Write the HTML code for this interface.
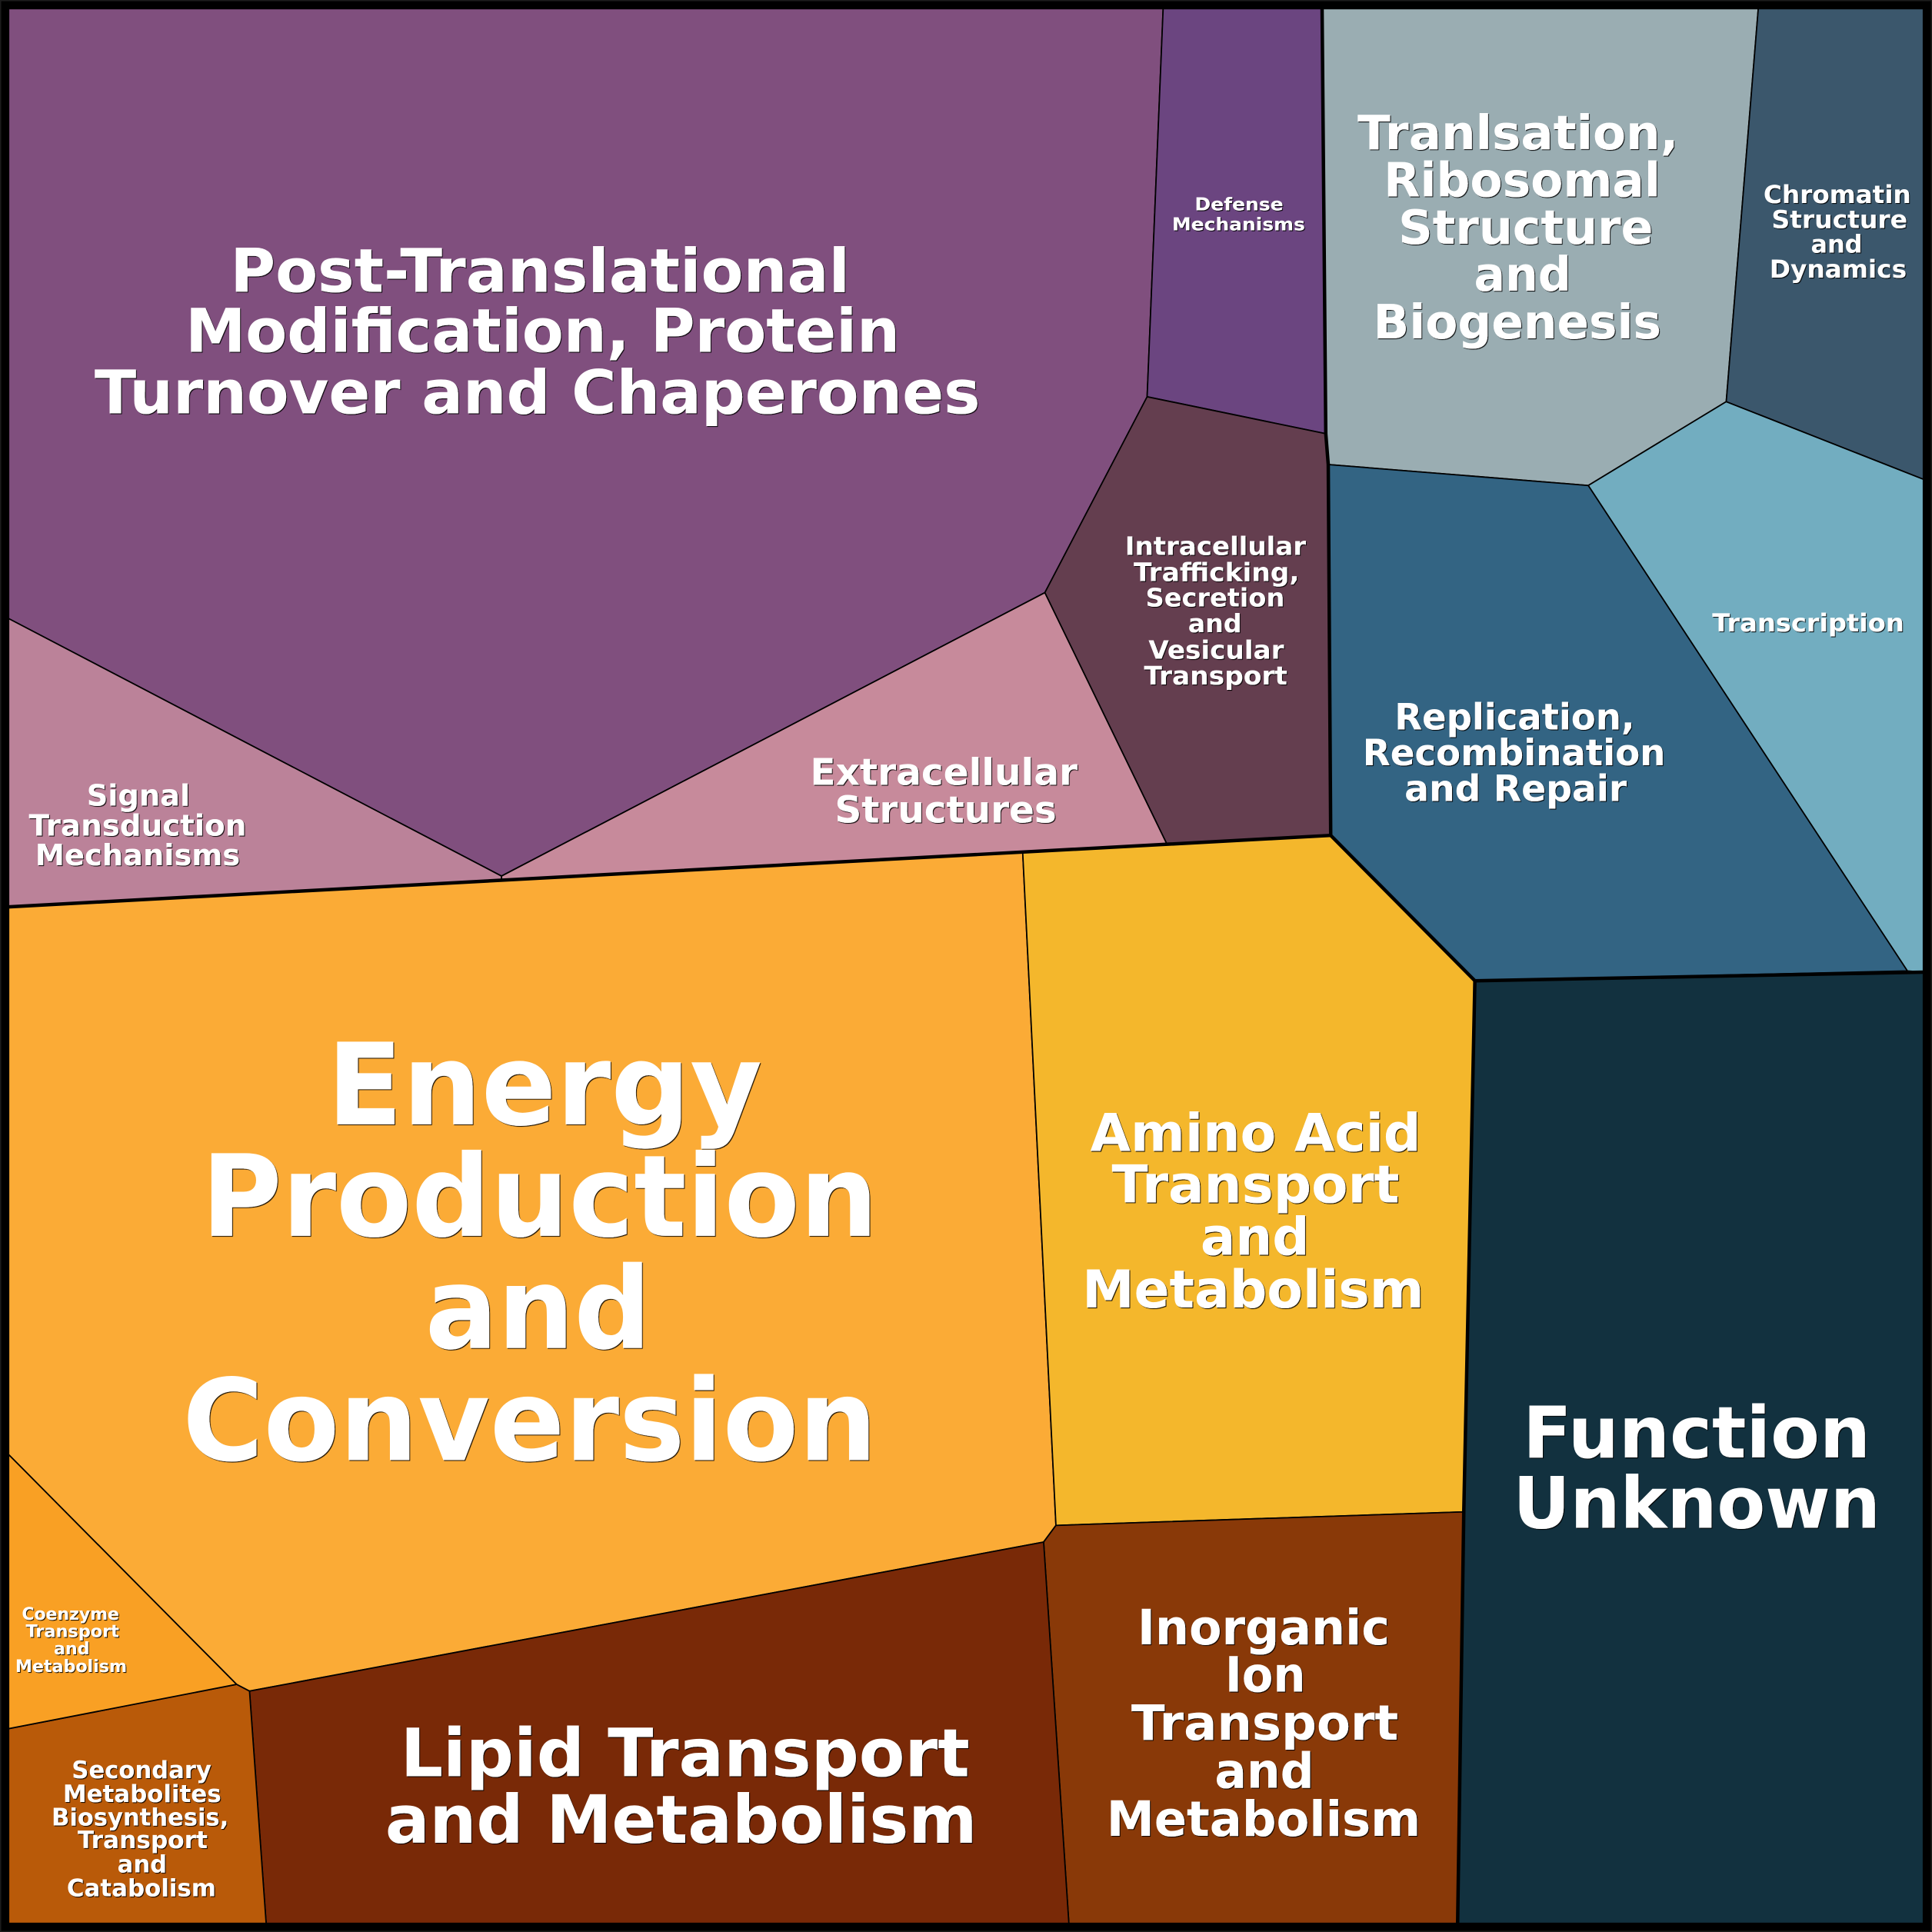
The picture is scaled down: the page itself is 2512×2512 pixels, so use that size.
<!DOCTYPE html>
<html><head><meta charset="utf-8">
<style>
html,body{margin:0;padding:0;background:#000;}
svg{display:block;}
text{font-family:"DejaVu Sans","Liberation Sans",sans-serif;font-weight:bold;fill:#fff;text-anchor:middle;}
</style></head>
<body>
<svg xmlns="http://www.w3.org/2000/svg" width="2512" height="2512" viewBox="0 0 1568 1568">
<defs>
<filter id="sh" x="-5%" y="-5%" width="110%" height="110%">
<feDropShadow dx="0.7" dy="0.7" stdDeviation="0" flood-color="#000" flood-opacity="0.85"/>
</filter>
</defs>
<rect x="0" y="0" width="1568" height="1568" fill="#000"/>
<g stroke="#000" stroke-width="1.1" stroke-linejoin="round">
<!-- purple group -->
<polygon fill="#804f7e" points="7,7 944,7 931,322 848,481 407,711 7,502"/>
<polygon fill="#6b4580" points="944,7 1073,7 1076,352 931,322"/>
<polygon fill="#643e4f" points="931,322 1076,352 1078,377 1080,678 947,685 848,481"/>
<polygon fill="#c78a9b" points="848,481 947,685 407,714 407,711"/>
<polygon fill="#bb8299" points="7,502 407,711 407,714 7,736"/>
<!-- blue group -->
<polygon fill="#9aadb2" points="1073,7 1427,7 1401,326 1289,394 1078,377 1076,352"/>
<polygon fill="#3b576c" points="1427,7 1561,7 1561,389 1401,326"/>
<polygon fill="#72adc0" points="1401,326 1561,389 1561,789 1548,788 1289,394"/>
<polygon fill="#336483" points="1078,377 1289,394 1548,788 1197,796 1080,678"/>
<!-- orange group -->
<polygon fill="#fbab36" points="7,736 830,691.5 857,1238 847,1251.5 202.5,1372.5 192,1367 7,1180.5"/>
<polygon fill="#f4b72c" points="830,691.5 1080,678 1197,796 1188,1227 857,1238"/>
<polygon fill="#893908" points="857,1238 1188,1227 1183,1561 867.5,1561 847,1251.5"/>
<polygon fill="#792907" points="202.5,1372.5 847,1251.5 867.5,1561 216,1561"/>
<polygon fill="#b95a09" points="7,1403 192,1367 202.5,1372.5 216,1561 7,1561"/>
<polygon fill="#f9a024" points="7,1180.5 192,1367 7,1403"/>
<!-- function unknown -->
<polygon fill="#12313f" points="1197,796 1561,789 1561,1561 1183,1561 1188,1227"/>
</g>
<g fill="none" stroke="#000" stroke-width="2.8" stroke-linejoin="round">
<polyline points="7,736 1080,678 1197,796 1561,789"/>
<polyline points="1073,7 1076,352 1078,377 1080,678"/>
<polyline points="1197,796 1188,1227 1183,1561"/>
</g>
<rect x="3.5" y="3.5" width="1561" height="1561" fill="none" stroke="#000" stroke-width="7.5"/>
<rect x="0.5" y="0.5" width="1567" height="1567" fill="none" stroke="#1c1c1c" stroke-width="1"/>

<g filter="url(#sh)">
<!-- PTM -->
<g font-size="49">
<text x="438.3" y="237" textLength="502.8" lengthAdjust="spacingAndGlyphs">Post-Translational</text>
<text x="440.4" y="285.7" textLength="579.8" lengthAdjust="spacingAndGlyphs">Modification, Protein</text>
<text x="436.1" y="335.4" textLength="718.8" lengthAdjust="spacingAndGlyphs">Turnover and Chaperones</text>
</g>
<!-- Defense -->
<g font-size="14.5">
<text x="1005.6" y="170.6" textLength="71.9" lengthAdjust="spacingAndGlyphs">Defense</text>
<text x="1005.2" y="186.8" textLength="108" lengthAdjust="spacingAndGlyphs">Mechanisms</text>
</g>
<!-- Translation -->
<g font-size="38.5">
<text x="1232" y="121.2" textLength="260.6" lengthAdjust="spacingAndGlyphs">Tranlsation,</text>
<text x="1235.3" y="159.4" textLength="224.6" lengthAdjust="spacingAndGlyphs">Ribosomal</text>
<text x="1238.3" y="197.9" textLength="206.9" lengthAdjust="spacingAndGlyphs">Structure</text>
<text x="1235.7" y="236" textLength="78.8" lengthAdjust="spacingAndGlyphs">and</text>
<text x="1231.4" y="274.8" textLength="233.7" lengthAdjust="spacingAndGlyphs">Biogenesis</text>
</g>
<!-- Chromatin -->
<g font-size="20">
<text x="1491.1" y="164.9" textLength="119.7" lengthAdjust="spacingAndGlyphs">Chromatin</text>
<text x="1492.9" y="185.2" textLength="110.3" lengthAdjust="spacingAndGlyphs">Structure</text>
<text x="1490.6" y="205" textLength="41.8" lengthAdjust="spacingAndGlyphs">and</text>
<text x="1491.8" y="225.4" textLength="111.3" lengthAdjust="spacingAndGlyphs">Dynamics</text>
</g>
<!-- Intracellular -->
<g font-size="20.5">
<text x="986.5" y="450.3" textLength="146.8" lengthAdjust="spacingAndGlyphs">Intracellular</text>
<text x="987.3" y="471.5" textLength="134.5" lengthAdjust="spacingAndGlyphs">Trafficking,</text>
<text x="986.2" y="492.1" textLength="112.8" lengthAdjust="spacingAndGlyphs">Secretion</text>
<text x="986" y="513" textLength="43.5" lengthAdjust="spacingAndGlyphs">and</text>
<text x="987.1" y="534.5" textLength="110" lengthAdjust="spacingAndGlyphs">Vesicular</text>
<text x="986.6" y="555.4" textLength="116.4" lengthAdjust="spacingAndGlyphs">Transport</text>
</g>
<!-- Transcription -->
<text font-size="20" x="1467.5" y="512.5" textLength="155.7" lengthAdjust="spacingAndGlyphs">Transcription</text>
<!-- Replication -->
<g font-size="29.5">
<text x="1229.3" y="592.2" textLength="194.9" lengthAdjust="spacingAndGlyphs">Replication,</text>
<text x="1228.8" y="621" textLength="245.7" lengthAdjust="spacingAndGlyphs">Recombination</text>
<text x="1230.1" y="650.1" textLength="180.4" lengthAdjust="spacingAndGlyphs">and Repair</text>
</g>
<!-- Extracellular -->
<g font-size="30">
<text x="766" y="637" textLength="217" lengthAdjust="spacingAndGlyphs">Extracellular</text>
<text x="767.5" y="667.5" textLength="180" lengthAdjust="spacingAndGlyphs">Structures</text>
</g>
<!-- Signal -->
<g font-size="24">
<text x="112.3" y="654" textLength="83.9" lengthAdjust="spacingAndGlyphs">Signal</text>
<text x="111.7" y="678.3" textLength="176.5" lengthAdjust="spacingAndGlyphs">Transduction</text>
<text x="111.7" y="702.2" textLength="166.3" lengthAdjust="spacingAndGlyphs">Mechanisms</text>
</g>
<!-- Energy -->
<g font-size="92">
<text x="442" y="912.5" textLength="353.2" lengthAdjust="spacingAndGlyphs">Energy</text>
<text x="438" y="1003" textLength="549.2" lengthAdjust="spacingAndGlyphs">Production</text>
<text x="436.7" y="1094" textLength="183.2" lengthAdjust="spacingAndGlyphs">and</text>
<text x="430" y="1185" textLength="563.7" lengthAdjust="spacingAndGlyphs">Conversion</text>
</g>
<!-- Amino -->
<g font-size="42.5">
<text x="1019" y="934" textLength="268.4" lengthAdjust="spacingAndGlyphs">Amino Acid</text>
<text x="1019" y="976" textLength="233.4" lengthAdjust="spacingAndGlyphs">Transport</text>
<text x="1018.5" y="1018.5" textLength="88.4" lengthAdjust="spacingAndGlyphs">and</text>
<text x="1017" y="1061" textLength="277.4" lengthAdjust="spacingAndGlyphs">Metabolism</text>
</g>
<!-- Function Unknown -->
<g font-size="58">
<text x="1377" y="1183" textLength="282.1" lengthAdjust="spacingAndGlyphs">Function</text>
<text x="1377" y="1240" textLength="298.1" lengthAdjust="spacingAndGlyphs">Unknown</text>
</g>
<!-- Inorganic -->
<g font-size="39.5">
<text x="1025.5" y="1334.7" textLength="204.7" lengthAdjust="spacingAndGlyphs">Inorganic</text>
<text x="1026.9" y="1372.9" textLength="65.3" lengthAdjust="spacingAndGlyphs">Ion</text>
<text x="1026.5" y="1412.1" textLength="216.7" lengthAdjust="spacingAndGlyphs">Transport</text>
<text x="1026.2" y="1451.1" textLength="80.7" lengthAdjust="spacingAndGlyphs">and</text>
<text x="1025.5" y="1490.1" textLength="254.9" lengthAdjust="spacingAndGlyphs">Metabolism</text>
</g>
<!-- Lipid -->
<g font-size="54">
<text x="556" y="1441.5" textLength="461.9" lengthAdjust="spacingAndGlyphs">Lipid Transport</text>
<text x="552.8" y="1495.5" textLength="480.3" lengthAdjust="spacingAndGlyphs">and Metabolism</text>
</g>
<!-- Secondary -->
<g font-size="19.5">
<text x="114.9" y="1443.3" textLength="113.4" lengthAdjust="spacingAndGlyphs">Secondary</text>
<text x="115.3" y="1462.5" textLength="128.4" lengthAdjust="spacingAndGlyphs">Metabolites</text>
<text x="113.7" y="1481.5" textLength="143.7" lengthAdjust="spacingAndGlyphs">Biosynthesis,</text>
<text x="115.7" y="1500" textLength="105.5" lengthAdjust="spacingAndGlyphs">Transport</text>
<text x="115.4" y="1519.7" textLength="40.2" lengthAdjust="spacingAndGlyphs">and</text>
<text x="114.8" y="1539" textLength="121.1" lengthAdjust="spacingAndGlyphs">Catabolism</text>
</g>
<!-- Coenzyme -->
<g font-size="14">
<text x="57.2" y="1314.5" textLength="79" lengthAdjust="spacingAndGlyphs">Coenzyme</text>
<text x="58.8" y="1328.7" textLength="75.8" lengthAdjust="spacingAndGlyphs">Transport</text>
<text x="58.2" y="1342.7" textLength="29" lengthAdjust="spacingAndGlyphs">and</text>
<text x="57.7" y="1356.9" textLength="90.6" lengthAdjust="spacingAndGlyphs">Metabolism</text>
</g>
</g>
</svg>
</body></html>
